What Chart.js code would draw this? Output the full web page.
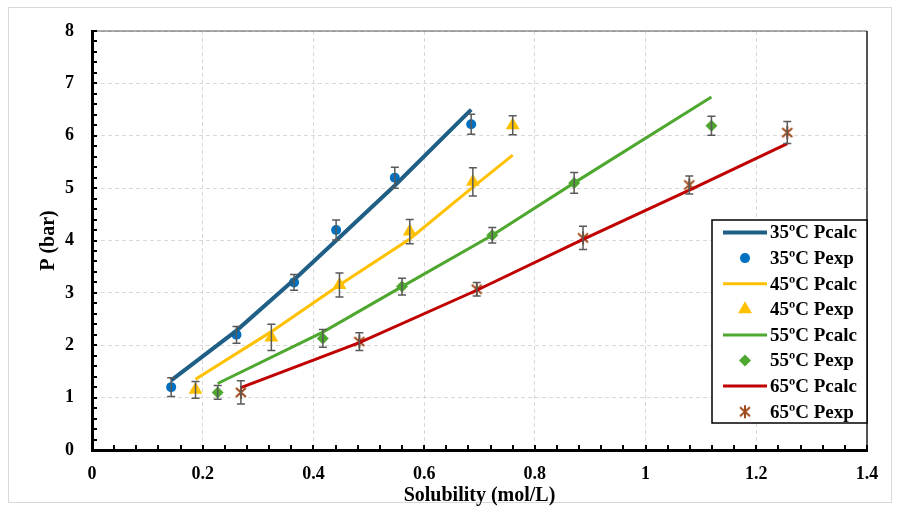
<!DOCTYPE html>
<html>
<head>
<meta charset="utf-8">
<script src="https://cdn.jsdelivr.net/npm/chart.js@4.4.0/dist/chart.umd.min.js"></script>
<style>
  html, body { margin: 0; padding: 0; background: #fff; }
  #wrap { width: 899px; height: 511px; }
</style>
</head>
<body>
<div id="wrap"><canvas id="chart" width="899" height="511"></canvas></div>
<script>
// solubility (mol/L) for each temperature
const s35 = [0.143, 0.261, 0.365, 0.441, 0.547, 0.685];
const s45 = [0.187, 0.324, 0.447, 0.574, 0.688, 0.760];
const s55 = [0.227, 0.417, 0.560, 0.723, 0.871, 1.119];
const s65 = [0.269, 0.483, 0.695, 0.887, 1.079, 1.256];

// measured pressure (bar)
const pexp35 = [1.20, 2.20, 3.20, 4.20, 5.20, 6.22];
const pexp45 = [1.15, 2.15, 3.15, 4.17, 5.12, 6.20];
const pexp55 = [1.10, 2.13, 3.12, 4.10, 5.10, 6.19];
const pexp65 = [1.10, 2.07, 3.07, 4.05, 5.06, 6.06];

// calculated pressure (bar)
const pcalc35 = [1.33, 2.28, 3.25, 4.00, 5.05, 6.50];
const pcalc45 = [1.35, 2.26, 3.15, 4.03, 5.02, 5.63];
const pcalc55 = [1.27, 2.25, 3.12, 4.10, 5.10, 6.74];
const pcalc65 = [1.19, 2.05, 3.05, 4.02, 4.96, 5.85];

// error bar half-heights (bar)
const err35 = [0.18, 0.16, 0.15, 0.19, 0.20, 0.19];
const err45 = [0.16, 0.25, 0.23, 0.23, 0.27, 0.18];
const err55 = [0.13, 0.17, 0.16, 0.15, 0.20, 0.18];
const err65 = [0.22, 0.17, 0.13, 0.22, 0.17, 0.21];

const temps = ['35ºC', '45ºC', '55ºC', '65ºC'];

const FONT = "'Liberation Serif', 'Times New Roman', serif";

// asterisk marker (x with a vertical stroke)
const star = document.createElement('canvas');
star.width = 14; star.height = 15;
(() => {
    const c = star.getContext('2d');
    c.strokeStyle = '#9E4A1C';
    c.lineWidth = 2;
    c.beginPath();
    c.moveTo(2, 3); c.lineTo(12, 12);
    c.moveTo(12, 3); c.lineTo(2, 12);
    c.moveTo(7, 1); c.lineTo(7, 14);
    c.stroke();
})();

const pts = (xs, ys) => xs.map((x, i) => ({ x: x, y: ys[i] }));

const calcSet = (label, xs, ys, color, width) => ({
    label: label,
    data: pts(xs, ys),
    showLine: true,
    borderColor: color,
    backgroundColor: color,
    borderWidth: width,
    pointRadius: 0,
    pointStyle: 'line',
    tension: 0
});

const expSet = (label, xs, ys, errs, color, style, radius) => ({
    label: label,
    data: pts(xs, ys),
    errors: errs,
    showLine: false,
    borderColor: color,
    backgroundColor: color,
    pointStyle: style,
    pointRadius: radius,
    pointBorderWidth: 0
});

const datasets = [
    calcSet(temps[0] + ' Pcalc', s35, pcalc35, '#1F5F86', 4),
    expSet(temps[0] + ' Pexp', s35, pexp35, err35, '#0070C0', 'circle', 5),
    calcSet(temps[1] + ' Pcalc', s45, pcalc45, '#FFC000', 3),
    expSet(temps[1] + ' Pexp', s45, pexp45, err45, '#FFC000', 'triangle', 8),
    calcSet(temps[2] + ' Pcalc', s55, pcalc55, '#4EA72E', 3),
    expSet(temps[2] + ' Pexp', s55, pexp55, err55, '#4EA72E', 'rectRot', 6),
    calcSet(temps[3] + ' Pcalc', s65, pcalc65, '#C00000', 3),
    expSet(temps[3] + ' Pexp', s65, pexp65, err65, '#9E4A1C', star, 7)
];

// error bars
const errorBars = {
    id: 'errorBars',
    afterDatasetsDraw(chart) {
        const { ctx, scales: { x, y } } = chart;
        ctx.save();
        ctx.strokeStyle = '#595959';
        ctx.lineWidth = 1.5;
        chart.data.datasets.forEach(ds => {
            if (!ds.errors) return;
            ds.data.forEach((p, i) => {
                const px = x.getPixelForValue(p.x);
                const top = y.getPixelForValue(p.y + ds.errors[i]);
                const bot = y.getPixelForValue(p.y - ds.errors[i]);
                ctx.beginPath();
                ctx.moveTo(px, top); ctx.lineTo(px, bot);
                ctx.moveTo(px - 4, top); ctx.lineTo(px + 4, top);
                ctx.moveTo(px - 4, bot); ctx.lineTo(px + 4, bot);
                ctx.stroke();
            });
        });
        ctx.restore();
    }
};

// outer frame, plot frame and inward minor ticks
const frame = {
    id: 'frame',
    beforeDraw(chart) {
        const ctx = chart.ctx;
        ctx.save();
        ctx.strokeStyle = '#d9d9d9';
        ctx.lineWidth = 1;
        ctx.strokeRect(8.5, 7.5, 883, 495);
        ctx.restore();
    },
    afterDraw(chart) {
        const { ctx, chartArea: a, scales: { x, y } } = chart;
        ctx.save();
        ctx.strokeStyle = '#595959';
        ctx.lineWidth = 1.2;
        ctx.beginPath();
        ctx.moveTo(a.left, a.top); ctx.lineTo(a.right, a.top);
        ctx.stroke();
        ctx.strokeStyle = '#202020';
        ctx.lineWidth = 1.5;
        ctx.beginPath();
        ctx.moveTo(a.right, a.top); ctx.lineTo(a.right, a.bottom);
        ctx.stroke();
        ctx.strokeStyle = '#000';
        ctx.lineWidth = 2;
        ctx.beginPath();
        for (let i = 0; i <= 35; i++) {
            const px = Math.round(x.getPixelForValue(i * 0.04));
            ctx.moveTo(px, a.bottom); ctx.lineTo(px, a.bottom - 5);
        }
        for (let i = 0; i <= 40; i++) {
            const py = Math.round(y.getPixelForValue(i * 0.2));
            ctx.moveTo(a.left, py); ctx.lineTo(a.left + 5, py);
        }
        ctx.stroke();
        ctx.restore();
    }
};

// legend box inside the plot area
const boxLegend = {
    id: 'boxLegend',
    afterDraw(chart) {
        const ctx = chart.ctx;
        const left = 712, top = 220, w = 155, h = 203, row = 25.6;
        ctx.save();
        ctx.fillStyle = '#fff';
        ctx.fillRect(left, top, w, h);
        ctx.strokeStyle = '#000';
        ctx.lineWidth = 1.5;
        ctx.strokeRect(left, top, w, h);
        ctx.font = 'bold 19px ' + FONT;
        ctx.textBaseline = 'middle';
        chart.data.datasets.forEach((ds, i) => {
            const cy = top + 12.5 + i * row;
            if (ds.showLine) {
                ctx.strokeStyle = ds.borderColor;
                ctx.lineWidth = ds.borderWidth;
                ctx.beginPath();
                ctx.moveTo(723, cy); ctx.lineTo(767, cy);
                ctx.stroke();
            } else {
                ctx.fillStyle = ds.backgroundColor;
                Chart.helpers.drawPoint(ctx, {
                    pointStyle: ds.pointStyle,
                    radius: ds.pointRadius,
                    rotation: 0,
                    borderWidth: 0
                }, 745, cy);
            }
            ctx.fillStyle = '#000';
            ctx.fillText(ds.label, 770, cy + 1);
        });
        ctx.restore();
    }
};

new Chart(document.getElementById('chart'), {
    type: 'scatter',
    data: { datasets: datasets },
    plugins: [frame, errorBars, boxLegend],
    options: {
        responsive: false,
        animation: false,
        layout: { padding: { top: 31, right: 32, left: 0, bottom: 0 } },
        plugins: { legend: { display: false }, tooltip: { enabled: false } },
        scales: {
            x: {
                type: 'linear',
                min: 0,
                max: 1.4,
                afterFit: s => { s.height = 61; },
                grid: { color: '#d9d9d9', lineWidth: 1, drawTicks: false },
                border: { color: '#000', width: 3, dash: [4, 3] },
                ticks: {
                    stepSize: 0.2,
                    padding: 14,
                    color: '#000',
                    font: { family: FONT, size: 18, weight: 'bold' },
                    callback: v => String(+v.toFixed(2))
                },
                title: {
                    display: true,
                    text: 'Solubility (mol/L)',
                    color: '#000',
                    font: { family: FONT, size: 20, weight: 'bold' },
                    padding: { top: 0, bottom: 3 }
                }
            },
            y: {
                type: 'linear',
                min: 0,
                max: 8,
                afterFit: s => { s.width = 92; },
                grid: { color: '#d9d9d9', lineWidth: 1, drawTicks: false },
                border: { color: '#000', width: 3, dash: [4, 3] },
                ticks: {
                    stepSize: 1,
                    padding: 18,
                    color: '#000',
                    font: { family: FONT, size: 18, weight: 'bold' }
                },
                title: {
                    display: true,
                    text: 'P (bar)',
                    color: '#000',
                    font: { family: FONT, size: 20, weight: 'bold' },
                    padding: { top: 37, bottom: 0 }
                }
            }
        }
    }
});
</script>
</body>
</html>
